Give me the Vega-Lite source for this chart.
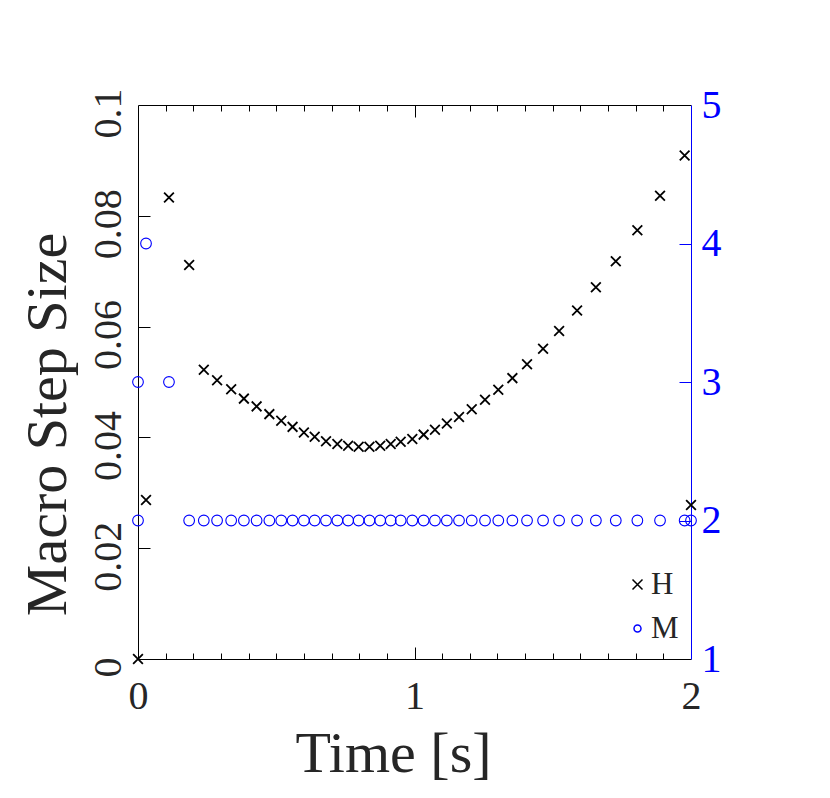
{
  "$schema": "https://vega.github.io/schema/vega-lite/v6.json",
  "width": 553,
  "height": 554,
  "autosize": "none",
  "padding": {"left": 138, "top": 105, "right": 139, "bottom": 139},
  "background": "white",
  "data": {
    "values": [
      {"t": 0, "H": 0, "M": 2},
      {"t": 0, "M": 3},
      {"t": 0.029, "H": 0.0287, "M": 4},
      {"t": 0.112, "H": 0.0833, "M": 3},
      {"t": 0.185, "H": 0.0711, "M": 2},
      {"t": 0.238, "H": 0.0522, "M": 2},
      {"t": 0.286, "H": 0.0503, "M": 2},
      {"t": 0.337, "H": 0.0487, "M": 2},
      {"t": 0.383, "H": 0.047, "M": 2},
      {"t": 0.429, "H": 0.0456, "M": 2},
      {"t": 0.475, "H": 0.0442, "M": 2},
      {"t": 0.518, "H": 0.043, "M": 2},
      {"t": 0.559, "H": 0.0419, "M": 2},
      {"t": 0.6, "H": 0.0409, "M": 2},
      {"t": 0.639, "H": 0.0401, "M": 2},
      {"t": 0.68, "H": 0.0393, "M": 2},
      {"t": 0.721, "H": 0.0388, "M": 2},
      {"t": 0.76, "H": 0.0385, "M": 2},
      {"t": 0.798, "H": 0.0383, "M": 2},
      {"t": 0.837, "H": 0.0383, "M": 2},
      {"t": 0.876, "H": 0.0385, "M": 2},
      {"t": 0.914, "H": 0.0388, "M": 2},
      {"t": 0.95, "H": 0.0392, "M": 2},
      {"t": 0.992, "H": 0.0397, "M": 2},
      {"t": 1.033, "H": 0.0405, "M": 2},
      {"t": 1.074, "H": 0.0414, "M": 2},
      {"t": 1.117, "H": 0.0425, "M": 2},
      {"t": 1.161, "H": 0.0437, "M": 2},
      {"t": 1.207, "H": 0.0451, "M": 2},
      {"t": 1.255, "H": 0.0468, "M": 2},
      {"t": 1.303, "H": 0.0486, "M": 2},
      {"t": 1.354, "H": 0.0507, "M": 2},
      {"t": 1.407, "H": 0.0532, "M": 2},
      {"t": 1.465, "H": 0.056, "M": 2},
      {"t": 1.523, "H": 0.0592, "M": 2},
      {"t": 1.588, "H": 0.0629, "M": 2},
      {"t": 1.656, "H": 0.0671, "M": 2},
      {"t": 1.728, "H": 0.0718, "M": 2},
      {"t": 1.806, "H": 0.0774, "M": 2},
      {"t": 1.888, "H": 0.0836, "M": 2},
      {"t": 1.977, "H": 0.0909, "M": 2},
      {"t": 2.0, "H": 0.0278, "M": 2}
    ]
  },
  "layer": [
    {
      "mark": {"type": "point", "filled": false, "strokeWidth": 1.8, "opacity": 1},
      "encoding": {
        "x": {
          "field": "t", "type": "quantitative",
          "scale": {"domain": [0, 2], "nice": false, "zero": false},
          "axis": {
            "orient": "bottom", "values": [0, 0.5, 1, 1.5, 2],
            "labelExpr": "datum.value == 0 ? '0' : datum.value == 1 ? '1' : datum.value == 2 ? '2' : ''",
            "ticks": false, "grid": false, "domainColor": "black",
            "labelPadding": 17, "labelBaseline": "top", "labelFlush": false, "labelOverlap": false,
            "title": "Time [s]", "titleX": 255, "titleY": 112,
            "titleBaseline": "alphabetic", "titleAlign": "center"
          }
        },
        "y": {
          "field": "H", "type": "quantitative",
          "scale": {"domain": [0, 0.1], "nice": false, "zero": false},
          "axis": {
            "orient": "left", "values": [0, 0.02, 0.04, 0.06, 0.08, 0.1], "format": "~g",
            "ticks": false, "grid": false, "domainColor": "black",
            "labelAngle": 270, "labelAlign": "center", "labelBaseline": "alphabetic",
            "labelPadding": 18, "labelOffset": 8, "labelFlush": false, "labelOverlap": false,
            "title": "Macro Step Size", "titleAngle": 270, "titleX": -73, "titleY": 319,
            "titleBaseline": "alphabetic", "titleAlign": "center"
          }
        },
        "color": {
          "datum": "H", "type": "nominal",
          "scale": {"domain": ["H", "M"], "range": ["black", "#0000ff"]},
          "legend": {
            "orient": "none", "legendX": 484, "legendY": 464, "title": null,
            "labelFont": "Liberation Serif", "labelFontSize": 31, "labelColor": "#262626",
            "labelOffset": -2, "symbolSize": 100, "symbolStrokeWidth": 1.5, "symbolOpacity": 1,
            "rowPadding": 12, "padding": 0
          }
        },
        "shape": {
          "datum": "H", "type": "nominal",
          "scale": {"domain": ["H", "M"], "range": ["M-1,-1L1,1M-1,1L1,-1", "M0.7,0A0.7,0.7 0 1,1 -0.7,0A0.7,0.7 0 1,1 0.7,0"]},
          "legend": {
            "orient": "none", "legendX": 484, "legendY": 464, "title": null,
            "labelFont": "Liberation Serif", "labelFontSize": 31, "labelColor": "#262626",
            "labelOffset": -2, "symbolSize": 100, "symbolStrokeWidth": 1.5, "symbolOpacity": 1,
            "rowPadding": 12, "padding": 0
          }
        },
        "size": {"value": 95}
      }
    },
    {
      "mark": {"type": "point", "filled": false, "strokeWidth": 1.1, "opacity": 1},
      "encoding": {
        "x": {"field": "t", "type": "quantitative", "scale": {"domain": [0, 2], "nice": false, "zero": false}, "axis": null},
        "y": {
          "field": "M", "type": "quantitative",
          "scale": {"domain": [1, 5], "nice": false, "zero": false},
          "axis": {
            "orient": "right", "values": [1, 2, 3, 4, 5], "format": "d",
            "ticks": false, "grid": false, "domainColor": "#0000ff", "labelColor": "#0000ff",
            "labelPadding": 10, "labelAlign": "left", "labelBaseline": "middle", "labelFlush": false, "labelOverlap": false,
            "title": null
          }
        },
        "color": {"datum": "M", "type": "nominal", "scale": {"domain": ["H", "M"], "range": ["black", "#0000ff"]}},
        "shape": {"datum": "M", "type": "nominal", "scale": {"domain": ["H", "M"], "range": ["M-1,-1L1,1M-1,1L1,-1", "M0.7,0A0.7,0.7 0 1,1 -0.7,0A0.7,0.7 0 1,1 0.7,0"]}},
        "size": {"value": 233}
      }
    },
    {
      "mark": {"type": "point", "opacity": 0},
      "encoding": {
        "x": {
          "field": "t", "type": "quantitative", "scale": {"domain": [0, 2], "nice": false, "zero": false},
          "axis": {"orient": "bottom", "values": [0.1, 0.2, 0.3, 0.4, 0.5, 0.6, 0.7, 0.8, 0.9, 1.1, 1.2, 1.3, 1.4, 1.5, 1.6, 1.7, 1.8, 1.9],
                   "labels": false, "domain": false, "grid": false, "title": null, "tickSize": -6, "tickColor": "black"}
        },
        "y": {
          "field": "H", "type": "quantitative", "scale": {"domain": [0, 0.1], "nice": false, "zero": false},
          "axis": {"orient": "left", "values": [0.02, 0.04, 0.06, 0.08], "labels": false, "domain": false, "grid": false, "title": null, "tickSize": -12, "tickColor": "black"}
        }
      }
    },
    {
      "mark": {"type": "point", "opacity": 0},
      "encoding": {
        "x": {
          "field": "t", "type": "quantitative", "scale": {"domain": [0, 2], "nice": false, "zero": false},
          "axis": {"orient": "bottom", "values": [1], "labels": false, "domain": false, "grid": false, "title": null, "tickSize": -12, "tickColor": "black"}
        },
        "y": {
          "field": "M", "type": "quantitative", "scale": {"domain": [1, 5], "nice": false, "zero": false},
          "axis": {"orient": "right", "values": [2, 3, 4], "labels": false, "domain": false, "grid": false, "title": null, "tickSize": -12, "tickColor": "#0000ff"}
        }
      }
    },
    {
      "mark": {"type": "point", "opacity": 0},
      "encoding": {
        "x": {
          "field": "t", "type": "quantitative", "scale": {"domain": [0, 2], "nice": false, "zero": false},
          "axis": {"orient": "top", "values": [0.1, 0.2, 0.3, 0.4, 0.5, 0.6, 0.7, 0.8, 0.9, 1.1, 1.2, 1.3, 1.4, 1.5, 1.6, 1.7, 1.8, 1.9],
                   "labels": false, "domain": true, "domainColor": "black", "grid": false, "title": null, "tickSize": -6, "tickColor": "black"}
        }
      }
    },
    {
      "mark": {"type": "point", "opacity": 0},
      "encoding": {
        "x": {
          "field": "t", "type": "quantitative", "scale": {"domain": [0, 2], "nice": false, "zero": false},
          "axis": {"orient": "top", "values": [1], "labels": false, "domain": false, "grid": false, "title": null, "tickSize": -12, "tickColor": "black"}
        }
      }
    }
  ],
  "resolve": {
    "scale": {"y": "independent"},
    "axis": {"x": "independent", "y": "independent"}
  },
  "config": {
    "view": {"stroke": null},
    "font": "Liberation Serif",
    "axis": {
      "labelFont": "Liberation Serif",
      "labelFontSize": 40,
      "labelColor": "#262626",
      "labelOverlap": false,
      "titleFont": "Liberation Serif",
      "titleFontSize": 58,
      "titleFontWeight": "normal",
      "titleColor": "#262626",
      "domainWidth": 1,
      "tickWidth": 1
    }
  }
}
